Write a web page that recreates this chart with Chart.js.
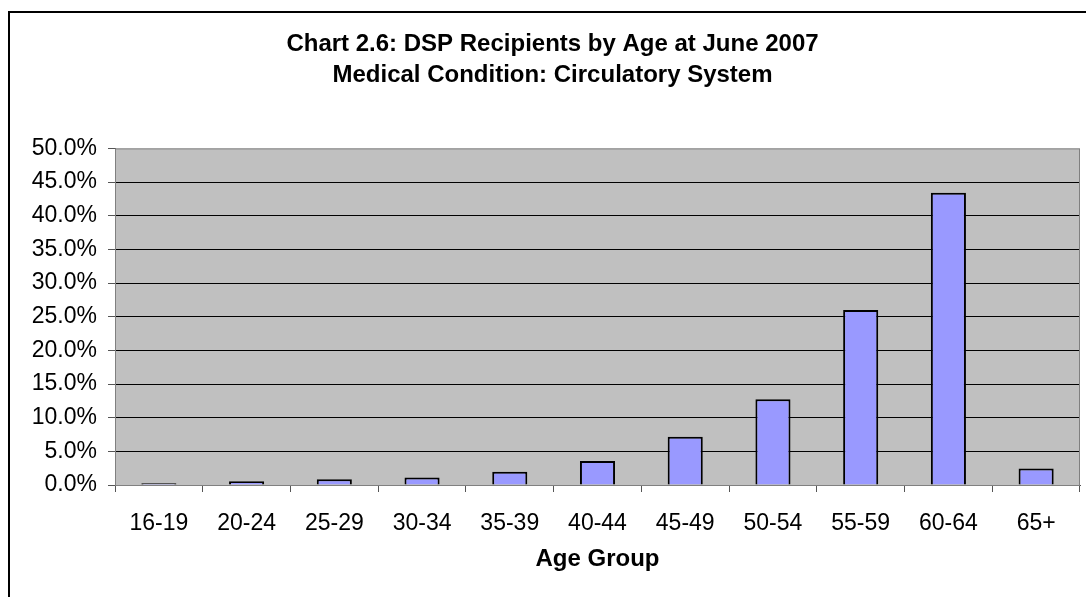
<!DOCTYPE html>
<html>
<head>
<meta charset="utf-8">
<title>DSP Recipients by Age - Circulatory System</title>
<script src="https://cdn.jsdelivr.net/npm/chart.js@4/dist/chart.umd.min.js"></script>
<style>
  html, body { margin: 0; padding: 0; background: #ffffff; }
  #wrap { position: relative; width: 1086px; height: 597px; }
</style>
</head>
<body>
<div id="wrap"><canvas id="chart" width="1086" height="597"></canvas></div>
<script>
// Age groups and share of DSP recipients (circulatory system), June 2007
const ageGroups = ['16-19', '20-24', '25-29', '30-34', '35-39', '40-44', '45-49', '50-54', '55-59', '60-64', '65+'];
const shares = [0.25, 0.55, 0.85, 1.1, 1.95, 3.55, 7.15, 12.75, 26.0, 43.4, 2.45];
const yTicks = [0, 5, 10, 15, 20, 25, 30, 35, 40, 45, 50];
const titleLines = ['Chart 2.6: DSP Recipients by Age at June 2007', 'Medical Condition: Circulatory System'];
const xTitle = 'Age Group';

const FONT = '"Liberation Sans", Arial, Helvetica, sans-serif';

// White page, outer frame and grey plot background
const backdrop = {
  id: 'backdrop',
  beforeDraw(chart) {
    const { ctx, chartArea: a } = chart;
    ctx.save();
    ctx.fillStyle = '#ffffff';
    ctx.fillRect(0, 0, chart.width, chart.height);
    ctx.strokeStyle = '#000000';
    ctx.lineWidth = 2;
    ctx.beginPath();
    ctx.moveTo(9, chart.height + 2);
    ctx.lineTo(9, 12);
    ctx.lineTo(chart.width + 2, 12);
    ctx.stroke();
    ctx.fillStyle = '#C0C0C0';
    ctx.fillRect(a.left, a.top, a.right - a.left, a.bottom - a.top);
    ctx.restore();
  },
  beforeDatasetsDraw(chart) {
    const { ctx, chartArea: a } = chart;
    ctx.save();
    ctx.strokeStyle = '#808080';
    ctx.lineWidth = 1;
    ctx.strokeRect(a.left + 0.5, a.top + 0.5, a.right - a.left - 1, a.bottom - a.top);
    ctx.restore();
  }
};

new Chart(document.getElementById('chart'), {
  type: 'bar',
  data: {
    labels: ageGroups,
    datasets: [{
      data: shares,
      backgroundColor: '#9999FF',
      borderColor: '#000000',
      borderWidth: 2,
      barPercentage: 0.4,
      categoryPercentage: 1.0
    }]
  },
  plugins: [backdrop],
  options: {
    responsive: false,
    animation: false,
    devicePixelRatio: 1,
    layout: { padding: { left: 25, right: 6, top: 0, bottom: 0 } },
    plugins: {
      legend: { display: false },
      tooltip: { enabled: false },
      title: {
        display: true,
        text: titleLines,
        color: '#000000',
        font: { family: FONT, size: 24, weight: 'bold', lineHeight: 1.3 },
        padding: { top: 29, bottom: 57 }
      }
    },
    scales: {
      x: {
        type: 'category',
        offset: true,
        grid: {
          offset: true,
          drawOnChartArea: false,
          drawTicks: true,
          tickLength: 7,
          tickColor: '#555555'
        },
        border: { display: true, color: '#555555', width: 1 },
        ticks: {
          color: '#000000',
          font: { family: FONT, size: 23 },
          padding: 18,
          maxRotation: 0,
          autoSkip: false
        },
        title: {
          display: true,
          text: xTitle,
          color: '#000000',
          font: { family: FONT, size: 24, weight: 'bold', lineHeight: 1.2 },
          padding: { top: 0, bottom: 23 }
        },
        afterFit(scale) { scale.height = 112; }
      },
      y: {
        min: yTicks[0],
        max: yTicks[yTicks.length - 1],
        afterBuildTicks(scale) { scale.ticks = yTicks.map(v => ({ value: v })); },
        grid: {
          drawTicks: true,
          tickLength: 7,
          tickColor: '#555555',
          color: ctx => (ctx.tick && (ctx.tick.value === 0 || ctx.tick.value === 50)) ? 'rgba(0,0,0,0)' : '#000000',
          lineWidth: 1
        },
        border: { display: true, color: '#555555', width: 1 },
        ticks: {
          color: '#000000',
          font: { family: FONT, size: 23 },
          padding: 11,
          callback: v => Number(v).toFixed(1) + '%'
        },
        afterFit(scale) { scale.width = 90; }
      }
    }
  }
});
</script>
</body>
</html>
